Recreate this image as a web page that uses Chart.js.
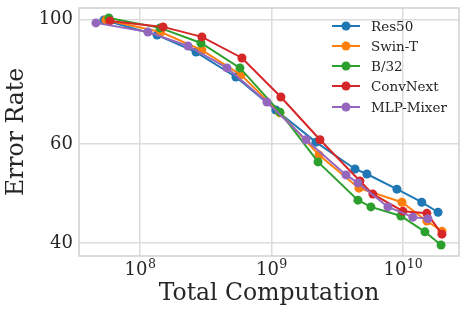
<!DOCTYPE html>
<html>
<head>
<meta charset="utf-8">
<script src="https://cdn.jsdelivr.net/npm/chart.js@4/dist/chart.umd.min.js"></script>
<style>
html,body{margin:0;padding:0;background:#fff;}
#wrap{width:468px;height:316px;}
</style>
</head>
<body>
<div id="wrap"><canvas id="c" width="468" height="316"></canvas></div>
<script>
const seriesNames = ["Res50", "Swin-T", "B/32", "ConvNext", "MLP-Mixer"];
const seriesColors = ["#1f77b4", "#ff7f0e", "#2ca02c", "#d62728", "#9467bd"];

const res50X = [5.32e7, 1.35e8, 2.67e8, 5.37e8, 1.08e9, 2.18e9, 4.32e9, 5.32e9, 9.0e9, 1.39e10, 1.85e10];
const res50Y = [99.8, 93.8, 87.5, 79.0, 69.0, 60.5, 54.2, 53.1, 49.9, 47.3, 45.4];

const swinX = [5.51e7, 1.44e8, 2.96e8, 5.86e8, 1.16e9, 2.30e9, 4.63e9, 9.83e9, 1.52e10, 1.98e10];
const swinY = [99.8, 95.0, 88.2, 79.7, 68.2, 57.4, 50.1, 47.3, 43.8, 42.0];

const b32X = [5.81e7, 1.42e8, 2.91e8, 5.76e8, 1.16e9, 2.26e9, 4.55e9, 5.71e9, 9.65e9, 1.47e10, 1.95e10];
const b32Y = [100.6, 96.6, 90.8, 82.0, 68.4, 55.8, 47.7, 46.4, 44.7, 41.9, 39.7];

const convX = [5.91e7, 1.50e8, 2.96e8, 5.97e8, 1.18e9, 2.34e9, 4.71e9, 5.91e9, 1.0e10, 1.52e10, 1.98e10];
const convY = [99.4, 97.0, 93.1, 85.4, 72.8, 61.1, 51.6, 48.9, 45.6, 45.2, 41.5];

const mlpX = [4.63e7, 1.15e8, 2.32e8, 4.59e8, 9.24e8, 1.83e9, 3.69e9, 4.55e9, 7.69e9, 1.19e10, 1.55e10];
const mlpY = [98.6, 95.0, 89.7, 82.0, 71.3, 61.1, 52.9, 51.2, 46.4, 44.5, 44.2];

const xTickValues = [1e8, 1e9, 1e10];
const xTickBase = ["10", "10", "10"];
const xTickExp = ["8", "9", "10"];
const yTickValues = [40, 60, 100];
const yTickLabels = ["40", "60", "100"];

const xs = [res50X, swinX, b32X, convX, mlpX];
const ys = [res50Y, swinY, b32Y, convY, mlpY];

const datasets = seriesNames.map((name, i) => ({
  label: name,
  data: xs[i].map((x, j) => ({x: x, y: ys[i][j]})),
  borderColor: seriesColors[i],
  backgroundColor: seriesColors[i],
  borderWidth: 2,
  pointRadius: 4.5,
  pointHoverRadius: 4.5,
  pointBorderWidth: 0,
  tension: 0,
  order: seriesNames.length - i
}));

const FONT = "'DejaVu Serif', serif";
const TXT = "#262626";
const GRID = "#dcdcdc";

const frameAndLegend = {
  id: 'frameAndLegend',
  beforeDatasetsDraw(chart) {
    const a = chart.chartArea, ctx = chart.ctx;
    ctx.save();
    ctx.strokeStyle = "#d0d0d0";
    ctx.lineWidth = 1.5;
    ctx.strokeRect(a.left, a.top, a.right - a.left, a.bottom - a.top);
    ctx.restore();
  },
  afterDatasetsDraw(chart) {
    const ctx = chart.ctx;
    ctx.save();
    ctx.font = "13.5px " + FONT;
    ctx.textBaseline = "middle";
    ctx.textAlign = "left";
    const rows = [26, 46, 66, 86, 107];
    seriesNames.forEach((name, i) => {
      const y = rows[i];
      ctx.strokeStyle = seriesColors[i];
      ctx.lineWidth = 2;
      ctx.beginPath();
      ctx.moveTo(332, y);
      ctx.lineTo(360, y);
      ctx.stroke();
      ctx.fillStyle = seriesColors[i];
      ctx.beginPath();
      ctx.arc(346, y, 4.5, 0, Math.PI * 2);
      ctx.fill();
      ctx.fillStyle = TXT;
      ctx.fillText(name, 371, y + 1);
    });
    // x tick labels with superscript exponents
    const xs = chart.scales.x;
    ctx.textBaseline = "alphabetic";
    ctx.fillStyle = TXT;
    xTickValues.forEach((v, k) => {
      const px = xs.getPixelForValue(v);
      ctx.font = "18px " + FONT;
      const wb = ctx.measureText(xTickBase[k]).width;
      ctx.font = "12.6px " + FONT;
      const we = ctx.measureText(xTickExp[k]).width;
      const start = px - (wb + we) / 2;
      ctx.font = "18px " + FONT;
      ctx.fillText(xTickBase[k], start, 275);
      ctx.font = "12.6px " + FONT;
      ctx.fillText(xTickExp[k], start + wb + 0.5, 268);
    });
    ctx.restore();
  }
};

new Chart(document.getElementById('c'), {
  type: 'line',
  data: { datasets: datasets },
  options: {
    responsive: false,
    animation: false,
    devicePixelRatio: 1,
    layout: { padding: { top: 8, right: 9, left: 0, bottom: 0 } },
    plugins: { legend: { display: false }, tooltip: { enabled: false } },
    scales: {
      x: {
        type: 'logarithmic',
        min: 3.44e7,
        max: 2.67e10,
        afterBuildTicks(scale) { scale.ticks = xTickValues.map(v => ({value: v})); },
        afterFit(scale) { scale.height = 60; scale.paddingLeft = 0; scale.paddingRight = 0; },
        ticks: {
          display: false,
          autoSkip: false,
          maxRotation: 0
        },
        grid: { color: GRID, lineWidth: 1.5, drawTicks: false },
        border: { display: false },
        title: {
          display: true,
          text: "Total Computation",
          color: TXT,
          font: { family: FONT, size: 23.5 },
          padding: { top: 0, bottom: 8 }
        }
      },
      y: {
        type: 'logarithmic',
        min: 37.95,
        max: 104.8,
        afterBuildTicks(scale) { scale.ticks = yTickValues.map(v => ({value: v})); },
        afterFit(scale) { scale.width = 79; scale.paddingTop = 0; scale.paddingBottom = 0; },
        ticks: {
          autoSkip: false,
          padding: 6,
          color: TXT,
          font: { family: FONT, size: 18 },
          callback(value) { const k = yTickValues.indexOf(value); return k >= 0 ? yTickLabels[k] : ''; }
        },
        grid: { color: GRID, lineWidth: 1.5, drawTicks: false },
        border: { display: false },
        title: {
          display: true,
          text: "Error Rate",
          color: TXT,
          font: { family: FONT, size: 23.5 },
          padding: { top: 3, bottom: 6 }
        }
      }
    }
  },
  plugins: [frameAndLegend]
});
</script>
</body>
</html>
